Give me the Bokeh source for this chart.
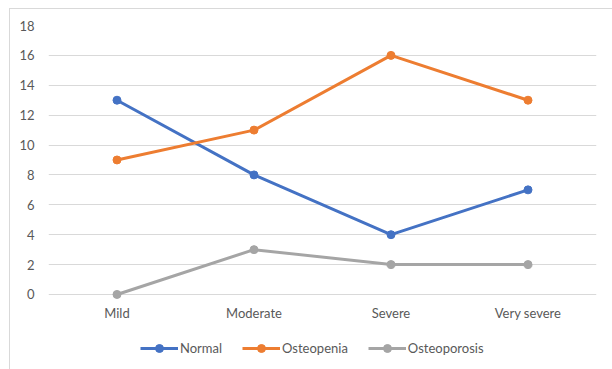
from bokeh.plotting import figure
from bokeh.models import Legend, LegendItem, FixedTicker, ColumnDataSource
from bokeh.core.properties import value
from bokeh.embed import file_html
from bokeh.resources import INLINE

# Categories and series values
categories = ["Mild", "Moderate", "Severe", "Very severe"]
normal = [13, 8, 4, 7]
osteopenia = [9, 11, 16, 13]
osteoporosis = [0, 3, 2, 2]
y_ticks = [0, 2, 4, 6, 8, 10, 12, 14, 16, 18]

series = [
    ("Normal", normal, "#4472C4"),
    ("Osteopenia", osteopenia, "#ED7D31"),
    ("Osteoporosis", osteoporosis, "#A5A5A5"),
]

FONT = "Lato"
TEXT_COLOR = "#595959"

# The frame reaches down past zero so the category labels and the legend
# can live inside it; gridlines are only drawn at the fixed ticks 0..18.
p = figure(
    x_range=categories, y_range=(-4.42, 18),
    frame_width=548, frame_height=335,
    output_backend="svg", toolbar_location=None,
    min_border_left=38, min_border_right=17,
    min_border_top=16, min_border_bottom=12,
)
p.margin = (8, 0, 0, 9)
p.styles = {"border": "1px solid #d9d9d9"}
p.outline_line_color = None
p.background_fill_color = "white"
p.border_fill_color = "white"
p.x_range.range_padding = 0

p.xgrid.grid_line_color = None
p.ygrid.grid_line_color = "#d9d9d9"
p.ygrid.grid_line_width = 1

p.xaxis.visible = False

p.yaxis.ticker = FixedTicker(ticks=y_ticks)
yax = p.yaxis[0]
yax.axis_line_color = None
yax.major_tick_line_color = None
yax.minor_tick_line_color = None
yax.major_tick_out = 0
yax.major_tick_in = 0
yax.minor_tick_out = 0
yax.minor_tick_in = 0
yax.major_label_standoff = 14
yax.major_label_text_font = FONT
yax.major_label_text_font_size = "13px"
yax.major_label_text_color = TEXT_COLOR

# Category labels under the zero line
label_src = ColumnDataSource(dict(x=categories, y=[-1.27] * len(categories), text=categories))
p.text(x="x", y="y", text="text", source=label_src,
       text_font=value(FONT), text_font_size="13px", text_color=TEXT_COLOR,
       text_align="center", text_baseline="middle")

items = []
for name, vals, color in series:
    ln = p.line(x=categories, y=vals, line_color=color, line_width=3)
    sc = p.scatter(x=categories, y=vals, size=8, fill_color=color, line_color=color)
    items.append(LegendItem(label=name, renderers=[ln, sc]))

# Horizontal legend along the bottom, offset from the frame's lower-left corner
legend = Legend(
    items=items, orientation="horizontal", location=(92, 2),
    glyph_width=38, label_standoff=2, spacing=20, margin=0, padding=0,
    label_text_font=FONT, label_text_font_size="13px",
    label_text_color=TEXT_COLOR, border_line_color=None,
    background_fill_alpha=0,
)
p.add_layout(legend, "center")

open("out.html", "w").write(file_html(p, INLINE))
